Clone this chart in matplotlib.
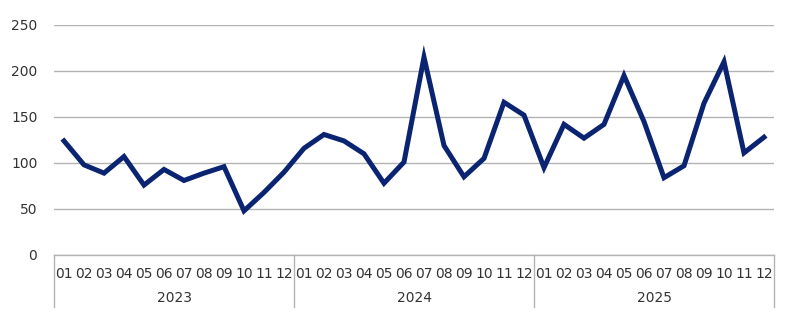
import matplotlib
matplotlib.use('Agg')
import matplotlib.pyplot as plt
import matplotlib.transforms as mtransforms

# Data
years = ['2023', '2024', '2025']
months = ['01', '02', '03', '04', '05', '06', '07', '08', '09', '10', '11', '12']
values_2023 = [124, 98, 89, 107, 76, 93, 81, 89, 96, 48, 68, 90]
values_2024 = [116, 131, 124, 110, 78, 101, 215, 119, 85, 105, 166, 152]
values_2025 = [95, 142, 127, 142, 195, 145, 84, 97, 165, 210, 111, 128]
y_ticks = [0, 50, 100, 150, 200, 250]

values = values_2023 + values_2024 + values_2025
labels = months * len(years)
x = list(range(len(values)))

grid_color = '#b3b3b3'
text_color = '#333333'

fig = plt.figure(figsize=(8, 3.33), dpi=100)
ax = fig.add_axes([54 / 800, 1 - 255 / 333, 720 / 800, 230 / 333])

ax.plot(x, values, color='#0a2472', linewidth=3.6, solid_joinstyle='miter', zorder=3)

ax.set_xlim(-0.5, len(values) - 0.5)
ax.set_ylim(0, 250)
ax.set_yticks(y_ticks)
ax.set_xticks(x)
ax.set_xticklabels(labels)
ax.grid(axis='y', color=grid_color, linewidth=1.0)
ax.set_axisbelow(True)

for s in ['top', 'right', 'left']:
    ax.spines[s].set_visible(False)
ax.spines['bottom'].set_color(grid_color)
ax.spines['bottom'].set_linewidth(1.0)

ax.tick_params(axis='y', length=0, pad=12, labelsize=10, labelcolor=text_color)
ax.tick_params(axis='x', length=0, pad=9, labelsize=10, labelcolor=text_color)

# Year groups: separator lines and labels under the month labels
trans = mtransforms.blended_transform_factory(ax.transData, ax.transAxes)
for i in range(len(years) + 1):
    xs = i * 12 - 0.5
    ax.plot([xs, xs], [0, -0.226], transform=trans, color=grid_color,
            linewidth=1.0, clip_on=False)
for i, yr in enumerate(years):
    ax.text(i * 12 + 5.5, -0.187, yr, transform=trans, ha='center', va='center',
            fontsize=10, color=text_color)

fig.savefig('out.png', dpi=100)
